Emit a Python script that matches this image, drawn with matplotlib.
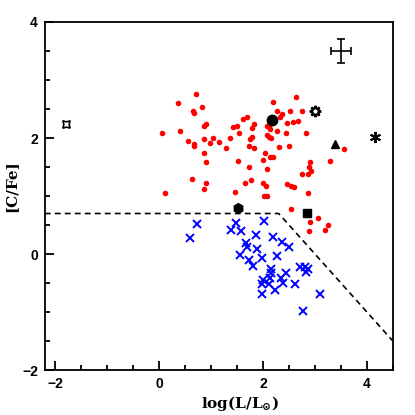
import matplotlib
matplotlib.use("Agg")
import matplotlib.pyplot as plt
from matplotlib.ticker import MultipleLocator

plt.rcParams['mathtext.fontset'] = 'dejavuserif'

# CEMP stars (red dots)
red_x = [0.70, 0.36, 0.82, 0.65, 0.67, 0.90, 0.86, 0.05, 0.40, 0.55,
         0.86, 1.03, 0.97, 0.67, 0.68, 1.15, 1.28, 1.36, 1.42, 1.50,
         1.54, 1.61, 1.69, 1.74, 1.78, 1.72, 1.83, 0.86, 0.91, 1.52,
         2.64, 2.19, 2.27, 2.51, 2.74, 2.37, 2.33, 1.82, 2.46, 2.57,
         2.67, 2.08, 2.14, 2.13, 2.27, 2.07, 2.12, 2.16, 2.44, 2.83,
         2.30, 2.50, 2.03, 2.14, 2.20, 1.99, 2.91, 3.29, 3.56, 2.88,
         2.93, 2.87, 2.75, 2.86, 2.46, 2.53, 2.59, 2.00, 2.05, 2.01,
         2.08, 1.46, 1.65, 1.76, 1.72, 2.08, 0.91, 0.87, 0.63, 0.12,
         2.54, 3.06, 2.91, 3.25, 3.20, 2.88, 1.78]
red_y = [2.76, 2.60, 2.54, 2.47, 2.44, 2.24, 2.20, 2.09, 2.13, 1.95,
         1.98, 2.00, 1.91, 1.90, 1.86, 1.94, 1.83, 2.00, 2.19, 2.21,
         2.09, 2.32, 2.36, 1.98, 2.01, 1.86, 1.83, 1.74, 1.59, 1.61,
         2.71, 2.62, 2.47, 2.47, 2.47, 2.41, 2.36, 2.24, 2.26, 2.28,
         2.29, 2.21, 2.24, 2.16, 2.12, 2.05, 2.01, 2.00, 2.08, 2.08,
         1.84, 1.86, 1.74, 1.67, 1.68, 1.62, 1.59, 1.60, 1.82, 1.50,
         1.44, 1.38, 1.38, 1.06, 1.20, 1.18, 1.16, 1.22, 1.17, 1.00,
         1.00, 1.07, 1.22, 1.28, 1.50, 1.46, 1.23, 1.13, 1.29, 1.06,
         0.77, 0.62, 0.55, 0.50, 0.42, 0.40, 2.18]

# carbon-normal stars (blue crosses)
blue_x = [0.72, 0.60, 1.47, 1.38, 1.57, 2.01, 1.86, 1.68, 1.70, 1.88,
          1.56, 1.73, 1.80, 1.98, 2.19, 2.37, 2.50, 2.27, 2.16, 2.15,
          2.14, 2.00, 1.98, 2.12, 2.35, 2.45, 2.39, 2.23, 1.98, 2.61,
          2.71, 2.80, 2.87, 2.82, 3.09, 2.76]
blue_y = [0.52, 0.28, 0.54, 0.41, 0.40, 0.57, 0.33, 0.20, 0.12, 0.08,
          -0.02, -0.10, -0.20, -0.07, 0.29, 0.21, 0.12, -0.03, -0.25, -0.32,
          -0.41, -0.45, -0.52, -0.51, -0.42, -0.33, -0.50, -0.62, -0.68, -0.52,
          -0.23, -0.23, -0.25, -0.31, -0.68, -0.98]

# individual objects
special_x = [-1.80, 2.18, 3.00, 3.39, 4.15, 2.85, 1.52]
special_y = [2.24, 2.31, 2.47, 1.90, 2.02, 0.70, 0.80]

# CEMP boundary
bound_x = [-2.2, 2.3, 4.5]
bound_y = [0.7, 0.7, -1.5]

# typical error
err_x, err_y = 3.5, 3.5
err_dx, err_dy = 0.2, 0.2

fig = plt.figure(figsize=(4.15, 4.15), dpi=100)
ax = fig.add_axes([0.108, 0.108, 0.839, 0.839])

ax.plot(bound_x, bound_y, color='black', lw=1.2, dashes=(3.5, 2.5))

ax.plot(red_x, red_y, 'o', color='red', ms=4, mew=0)
ax.plot(blue_x, blue_y, 'x', color='blue', ms=5.5, mew=1.4)

ax.plot(special_x[0], special_y[0], marker=(4, 1, 45), ms=7.5, mfc='none', mec='black', mew=1.2)
ax.plot(special_x[1], special_y[1], 'o', color='black', ms=7.5)
ax.plot(special_x[2], special_y[2], marker=(8, 1, 0), ms=8, mfc='white', mec='black', mew=1.6)
ax.plot(special_x[3], special_y[3], '^', color='black', ms=6)
ax.plot(special_x[4], special_y[4], marker=(6, 2, 0), ms=8, color='black', mew=1.4)
ax.plot(special_x[5], special_y[5], 's', color='black', ms=5.5)
ax.plot(special_x[6], special_y[6], 'h', color='black', ms=7)

ax.errorbar(err_x, err_y, xerr=err_dx, yerr=err_dy, fmt='none', ecolor='black',
            elinewidth=1.2, capsize=3, capthick=1.2)

ax.set_xlim(-2.2, 4.5)
ax.set_ylim(-2, 4)

ax.xaxis.set_major_locator(MultipleLocator(2))
ax.xaxis.set_minor_locator(MultipleLocator(0.5))
ax.yaxis.set_major_locator(MultipleLocator(2))
ax.yaxis.set_minor_locator(MultipleLocator(0.5))
ax.tick_params(which='both', direction='in', top=False, right=False, width=1.3)
ax.tick_params(which='major', length=6.5, pad=5, labelsize=10)
ax.tick_params(which='minor', length=3.5)
for lab in ax.get_xticklabels() + ax.get_yticklabels():
    lab.set_fontweight('bold')
    lab.set_family('Liberation Sans')
for s in ax.spines.values():
    s.set_linewidth(1.3)

ax.set_xlabel(r'$\mathbf{log(L/L_{\odot})}$', fontsize=11)
ax.set_ylabel('[C/Fe]', fontsize=11, fontweight='bold', family='DejaVu Serif')
ax.xaxis.set_label_coords(0.56, -0.068)
ax.yaxis.set_label_coords(-0.075, 0.53)

fig.savefig('out.png', dpi=100)
